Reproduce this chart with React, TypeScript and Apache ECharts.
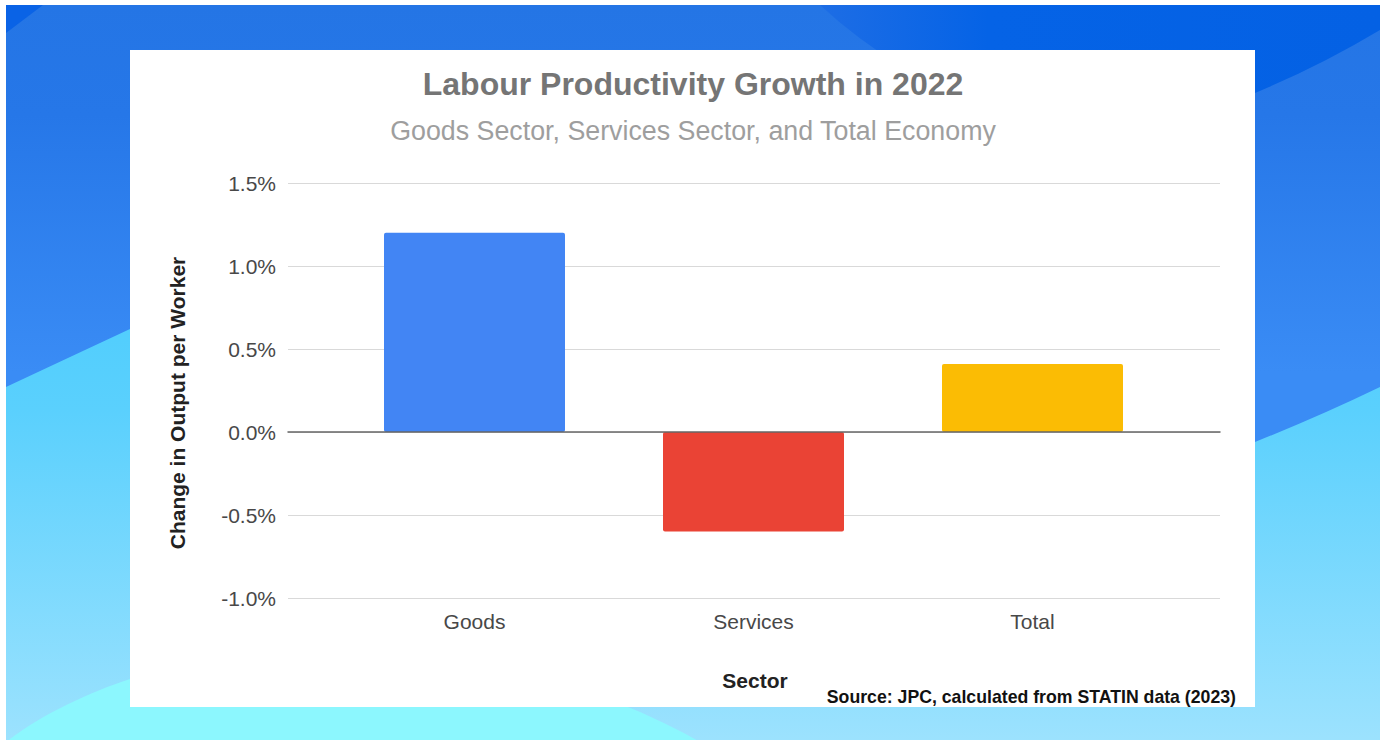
import React, { useEffect, useRef } from "react";
import * as echarts from "echarts";

const categories = ["Goods", "Services", "Total"];
const values = [1.2, -0.6, 0.41];
const barColors = ["#4285f4", "#ea4335", "#fbbc04"];
const yMin = -1;
const yMax = 1.5;
const yStep = 0.5;

const titleText = "Labour Productivity Growth in 2022";
const subtitleText = "Goods Sector, Services Sector, and Total Economy";
const yTitle = "Change in Output per Worker";
const xTitle = "Sector";
const sourceText = "Source: JPC, calculated from STATIN data (2023)";

const FONT = "'Liberation Sans', Arial, sans-serif";

echarts.graphic.registerShape(
  "bgDark",
  echarts.graphic.extendPath(
    "M 820 5 L 1380 5 L 1380 30 Q 1320 66 1255 93 Q 1150 135 1050 140 Q 900 80 820 5 Z",
    {}
  )
);
echarts.graphic.registerShape(
  "bgCyan",
  echarts.graphic.extendPath(
    "M 6 387 Q 70 357 130 329 L 700 300 L 1255 442 Q 1320 416 1380 387 L 1380 740 L 6 740 Z",
    {}
  )
);
echarts.graphic.registerShape(
  "bgLight",
  echarts.graphic.extendPath(
    "M 6 742 C 40 715 90 692 130 679 C 320 630 540 650 700 742 Z",
    {}
  )
);
echarts.graphic.registerShape(
  "bgCorner",
  echarts.graphic.extendPath("M 6 5 L 43 5 L 6 33 Z", {})
);

export default function App() {
  const ref = useRef<HTMLDivElement>(null);
  useEffect(() => {
    if (!ref.current) return;
    const chart = echarts.init(ref.current, null, { renderer: "svg" });
    const option: any = {
      animation: false,
      backgroundColor: "#ffffff",
      graphic: [
        {
          type: "rect",
          z: -100,
          shape: { x: 6, y: 5, width: 1374, height: 735 },
          style: {
            fill: {
              type: "linear", x: 0, y: 0, x2: 0, y2: 1,
              colorStops: [
                { offset: 0, color: "#2475e5" },
                { offset: 0.15, color: "#2677e8" },
                { offset: 0.5, color: "#3a8cf5" },
                { offset: 1, color: "#3a8cf5" },
              ],
            },
          },
        },
        {
          type: "bgDark",
          z: -99,
          style: {
            fill: {
              type: "linear", x: 0, y: 0, x2: 1, y2: 0,
              colorStops: [
                { offset: 0, color: "#1d6de5" },
                { offset: 0.3, color: "#0563e6" },
                { offset: 1, color: "#0461e4" },
              ],
            },
          },
        },
        {
          type: "bgCorner",
          z: -99,
          style: { fill: "#0a63e6" },
        },
        {
          type: "bgCyan",
          z: -98,
          style: {
            fill: {
              type: "linear", x: 0, y: 0, x2: 0, y2: 1,
              colorStops: [
                { offset: 0, color: "#4fcdfd" },
                { offset: 0.25, color: "#5ad0fd" },
                { offset: 1, color: "#9ce2fe" },
              ],
            },
          },
        },
        {
          type: "bgLight",
          z: -97,
          style: { fill: "#8cf7fe" },
        },
        {
          type: "rect",
          z: -90,
          shape: { x: 130, y: 50, width: 1125, height: 657 },
          style: { fill: "#ffffff" },
        },
        {
          type: "text",
          z: 10,
          x: 693,
          y: 84,
          style: {
            text: titleText,
            fill: "#757575",
            font: `bold 32px ${FONT}`,
            textAlign: "center",
            textVerticalAlign: "middle",
          },
        },
        {
          type: "text",
          z: 10,
          x: 693,
          y: 131,
          style: {
            text: subtitleText,
            fill: "#9e9e9e",
            font: `26.8px ${FONT}`,
            textAlign: "center",
            textVerticalAlign: "middle",
          },
        },
        {
          type: "text",
          z: 10,
          x: 177,
          y: 403,
          rotation: Math.PI / 2,
          style: {
            text: yTitle,
            fill: "#222222",
            font: `bold 21px ${FONT}`,
            textAlign: "center",
            textVerticalAlign: "middle",
          },
        },
        {
          type: "text",
          z: 10,
          x: 755,
          y: 680,
          style: {
            text: xTitle,
            fill: "#222222",
            font: `bold 21px ${FONT}`,
            textAlign: "center",
            textVerticalAlign: "middle",
          },
        },
        {
          type: "text",
          z: 10,
          x: 1236,
          y: 697,
          style: {
            text: sourceText,
            fill: "#111111",
            font: `bold 17.7px ${FONT}`,
            textAlign: "right",
            textVerticalAlign: "middle",
          },
        },
      ],
      grid: [
        { left: 288, width: 932, top: 183, height: 415 },
        { left: 335, width: 837, top: 183, height: 415 },
      ],
      xAxis: [
        {
          gridIndex: 0,
          type: "category",
          data: [""],
          z: 5,
          axisLine: { show: true, onZero: true, lineStyle: { color: "#666666", width: 1.5 } },
          axisTick: { show: false },
          axisLabel: { show: false },
          splitLine: { show: false },
        },
        {
          gridIndex: 1,
          type: "category",
          data: categories,
          axisLine: { show: false, onZero: false },
          axisTick: { show: false },
          axisLabel: { fontSize: 21, color: "#484848", margin: 13, fontFamily: FONT },
        },
      ],
      yAxis: [
        {
          gridIndex: 0,
          type: "value",
          min: yMin,
          max: yMax,
          interval: yStep,
          axisLine: { show: false },
          axisTick: { show: false },
          axisLabel: {
            fontSize: 21,
            color: "#484848",
            margin: 12,
            fontFamily: FONT,
            formatter: (v: number) => v.toFixed(1) + "%",
          },
          splitLine: { lineStyle: { color: "#d9d9d9", width: 1 } },
        },
        {
          gridIndex: 1,
          type: "value",
          min: yMin,
          max: yMax,
          interval: yStep,
          show: false,
        },
      ],
      series: [
        {
          type: "bar",
          xAxisIndex: 1,
          yAxisIndex: 1,
          barWidth: 181,
          data: values.map((v, i) => ({
            value: v,
            itemStyle: { color: barColors[i], borderRadius: 2 },
          })),
        },
      ],
    };
    chart.setOption(option);
    return () => chart.dispose();
  }, []);
  return (
    <div
      ref={ref}
      style={{ position: "fixed", left: 0, top: 0, width: 1380, height: 740 }}
    />
  );
}
